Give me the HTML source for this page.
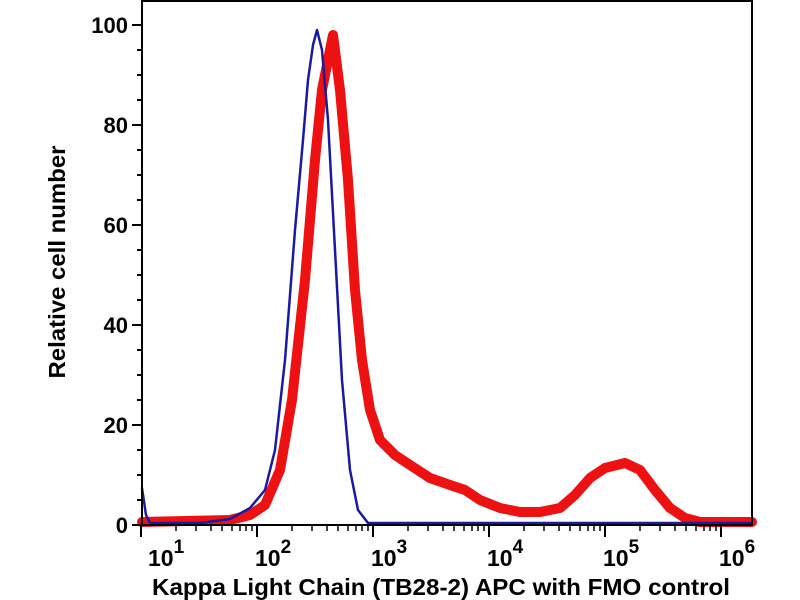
<!DOCTYPE html>
<html><head><meta charset="utf-8"><style>body{margin:0;background:#fff}svg{display:block}</style></head>
<body>
<svg width="800" height="600" xmlns="http://www.w3.org/2000/svg" font-family="Liberation Sans, sans-serif" font-weight="bold">
<rect width="800" height="600" fill="#fff"/>
<g fill="none" stroke-linejoin="round" stroke-linecap="round">
<path stroke="#ee1111" stroke-width="10" d="M142,522 L230,520 L250,515 L265,505 L280,470 L292,400 L305,280 L315,160 L322,90 L333,35 L340,90 L348,180 L355,290 L362,360 L370,410 L380,440 L395,455 L410,465 L430,478 L450,485 L465,490 L480,500 L500,508 L520,512 L540,512 L560,508 L575,495 L590,478 L605,468 L625,463 L640,470 L655,490 L670,508 L685,518 L700,522 L752,522"/>
<path stroke="#1a1aa0" stroke-width="2.5" d="M142,488 L146,515 L150,523 L200,523 L230,519 L250,508 L265,490 L275,450 L285,360 L295,230 L303,140 L308,80 L313,45 L317,30 L322,50 L328,120 L335,250 L342,380 L350,470 L358,510 L368,523 L752,523"/>
</g>
<g stroke="#000" stroke-width="2" fill="none">
<rect x="142" y="1" width="610" height="524"/>
<path d="M132,25H142M132,125H142M132,225H142M132,325H142M132,425H142M132,525H142"/>
<path d="M137,50H142M137,75H142M137,100H142M137,150H142M137,175H142M137,200H142M137,250H142M137,275H142M137,300H142M137,350H142M137,375H142M137,400H142M137,450H142M137,475H142M137,500H142"/>
<path d="M141,525V537M257,525V537M373,525V537M489,525V537M605,525V537M721,525V537"/>
</g>
<g stroke="#000" stroke-width="1.5">
<path d="M176,525V531M196,525V531M211,525V531M222,525V531M232,525V531M240,525V531M246,525V531M252,525V531
M292,525V531M312,525V531M327,525V531M338,525V531M348,525V531M356,525V531M362,525V531M368,525V531
M408,525V531M428,525V531M443,525V531M454,525V531M464,525V531M472,525V531M478,525V531M484,525V531
M524,525V531M544,525V531M559,525V531M570,525V531M580,525V531M588,525V531M594,525V531M600,525V531
M640,525V531M660,525V531M675,525V531M686,525V531M696,525V531M704,525V531M710,525V531M716,525V531"/>
</g>
<g font-size="22" text-anchor="end">
<text x="128" y="33">100</text><text x="128" y="133">80</text><text x="128" y="233">60</text>
<text x="128" y="333">40</text><text x="128" y="433">20</text><text x="128" y="533">0</text>
</g>
<g font-size="23">
<text x="148" y="566">10<tspan dy="-13" font-size="19">1</tspan></text>
<text x="255" y="566">10<tspan dy="-13" font-size="19">2</tspan></text>
<text x="371" y="566">10<tspan dy="-13" font-size="19">3</tspan></text>
<text x="487" y="566">10<tspan dy="-13" font-size="19">4</tspan></text>
<text x="603" y="566">10<tspan dy="-13" font-size="19">5</tspan></text>
<text x="719" y="566">10<tspan dy="-13" font-size="19">6</tspan></text>
</g>
<text x="441" y="595" font-size="23" text-anchor="middle" textLength="578" lengthAdjust="spacingAndGlyphs">Kappa Light Chain (TB28-2) APC with FMO control</text>
<text transform="translate(65,262) rotate(-90)" font-size="23" text-anchor="middle" textLength="233" lengthAdjust="spacingAndGlyphs">Relative cell number</text>
</svg>
</body></html>
